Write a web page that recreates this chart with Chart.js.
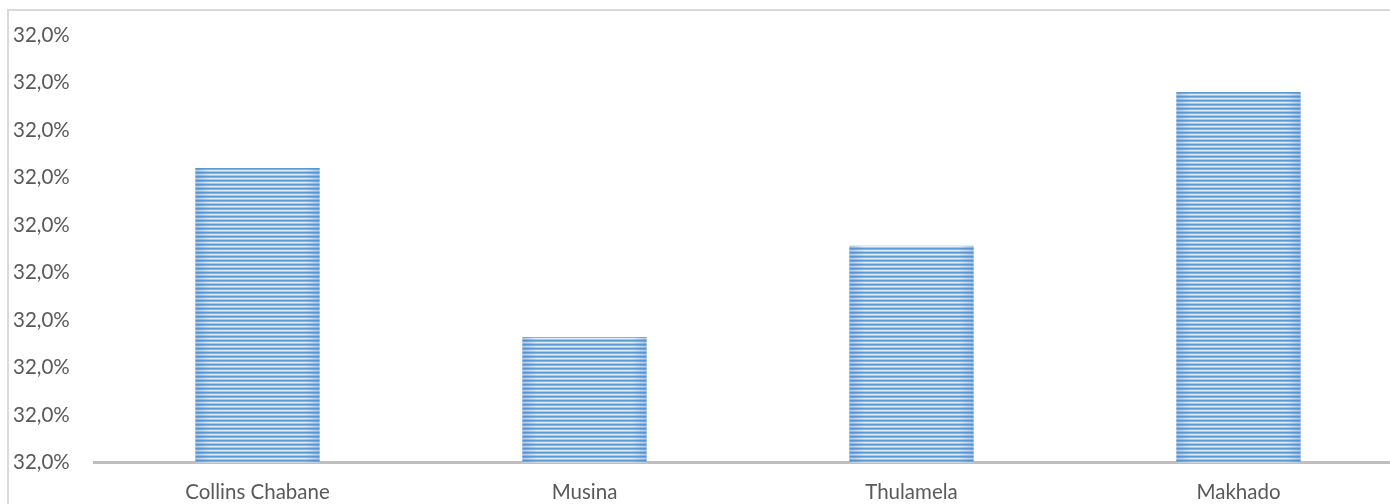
<!DOCTYPE html>
<html>
<head>
<meta charset="utf-8">
<script src="https://cdn.jsdelivr.net/npm/chart.js@4/dist/chart.umd.min.js"></script>
<style>
  html, body { margin: 0; background: #fff; overflow: hidden; }
  #vista { position: relative; width: 1390px; height: 504px; overflow: hidden; }
  #marco { position: absolute; left: 7px; top: 9px; width: 1390px; height: 500px;
           border-left: 2px solid #d9d9d9; border-top: 2px solid #d9d9d9; }
  #grafica { position: absolute; left: 0; top: 0; }
</style>
</head>
<body>
<div id="vista">
  <div id="marco"></div>
  <canvas id="grafica" width="1402" height="523"></canvas>
</div>
<script>
// municipios y porcentaje
var municipios = ["Collins Chabane", "Musina", "Thulamela", "Makhado"];
var porcentajes = [32.0062, 32.00264, 32.00456, 32.0078];
var ejeMin = 32.000;
var ejeMax = 32.009;
var ejePaso = 0.001;

var letra = { family: "Lato", size: 20.5 };

// relleno rayado de las barras
function rayado() {
  var c = document.createElement("canvas");
  c.width = 1;
  c.height = 4;
  var g = c.getContext("2d");
  var colores = ["#5b9bd5", "#86b4e2", "#e2eef9", "#a8c8ea"];
  colores.forEach((col, i) => {
    g.fillStyle = col;
    g.fillRect(0, i, 1, 1);
  });
  return document.querySelector("#grafica").getContext("2d").createPattern(c, "repeat");
}

// sombra a los lados de cada barra
const bordes = {
  id: "bordes",
  afterDatasetsDraw(chart) {
    const ctx = chart.ctx;
    const abajo = chart.chartArea.bottom;
    chart.getDatasetMeta(0).data.forEach((b) => {
      const izq = b.x - b.width / 2;
      const der = b.x + b.width / 2;
      let gr = ctx.createLinearGradient(izq, 0, der, 0);
      gr.addColorStop(0, "rgba(70,130,200,0.35)");
      gr.addColorStop(0.12, "rgba(70,130,200,0)");
      gr.addColorStop(0.88, "rgba(70,130,200,0)");
      gr.addColorStop(1, "rgba(70,130,200,0.35)");
      ctx.save();
      ctx.fillStyle = gr;
      ctx.fillRect(izq, b.y, b.width, abajo - b.y);
      ctx.restore();
    });
  },
};

new Chart(document.querySelector("#grafica"), {
  type: "bar",
  data: {
    labels: municipios,
    datasets: [
      {
        data: porcentajes,
        backgroundColor: rayado(),
        categoryPercentage: 1,
        barPercentage: 0.38,
      },
    ],
  },
  options: {
    responsive: false,
    animation: false,
    layout: { padding: { left: 13, top: 35, right: 0, bottom: 0 } },
    plugins: { legend: { display: false }, tooltip: { enabled: false } },
    scales: {
      x: {
        grid: { display: false, drawTicks: false },
        border: { color: "#bfbfbf", width: 3 },
        ticks: { color: "#595959", padding: 18, font: letra },
      },
      y: {
        min: ejeMin,
        max: ejeMax,
        grid: { display: false, drawTicks: false },
        border: { display: false },
        afterFit(s) { s.width = 81; },
        ticks: {
          stepSize: ejePaso,
          crossAlign: "far",
          padding: 0,
          color: "#595959",
          font: letra,
          callback: (v) => v.toFixed(1).replace(".", ",") + "%",
        },
      },
    },
  },
  plugins: [bordes],
});
</script>
</body>
</html>
